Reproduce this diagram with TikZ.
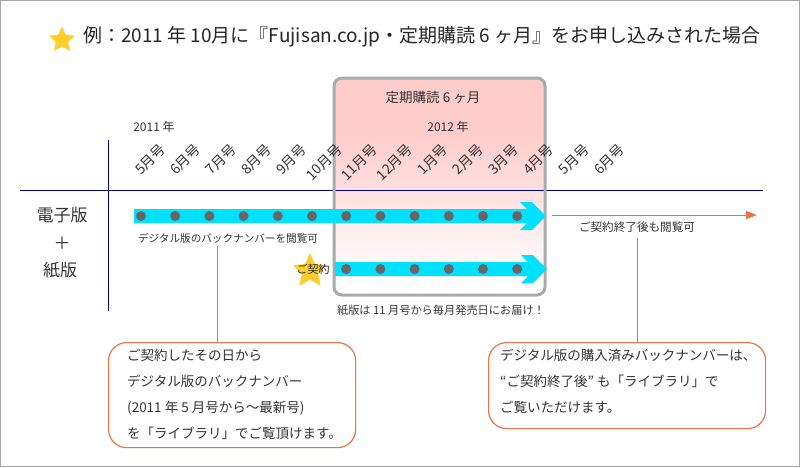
\documentclass[tikz,border=0pt]{standalone}
\usepackage{fontspec}
\setmainfont{Noto Sans CJK JP}
\usetikzlibrary{shapes.geometric,arrows.meta}

\definecolor{navyline}{RGB}{0,0,128}
\definecolor{bandcyan}{RGB}{0,225,255}
\definecolor{dotgray}{RGB}{102,102,102}
\definecolor{boxpink}{RGB}{255,204,204}
\definecolor{boxgray}{RGB}{170,170,170}
\definecolor{noteorange}{RGB}{232,116,72}
\definecolor{stargold}{RGB}{255,204,40}
\definecolor{txtgray}{RGB}{51,51,51}

\pgfdeclareverticalshading{pinkfade}{100bp}{color(0bp)=(white); color(28bp)=(white); color(62bp)=(boxpink); color(100bp)=(boxpink)}

\begin{document}
\begin{tikzpicture}[
    x=1pt, y=-1pt,
    txt/.style={inner sep=0pt, text=txtgray},
    month/.style={txt, rotate=45, anchor=east, font=\fontsize{14}{14}\selectfont},
    dot/.style={circle, fill=dotgray, minimum size=10pt, inner sep=0pt},
    axis/.style={navyline, line width=1pt},
    note/.style={draw=noteorange, line width=1.2pt, rounded corners=18pt, fill=white, inner sep=0pt},
    notetxt/.style={txt, anchor=west, align=left, font=\fontsize{13.5}{26}\selectfont},
    lead/.style={noteorange, line width=1pt},
    goldstar/.style={star, star points=5, star point ratio=2.1, fill=stargold, inner sep=0pt}
]
    \useasboundingbox (0,0) rectangle (800,467);
    \draw[gray!70, line width=1pt] (0.5,0.5) rectangle (799.5,466.5);

    % Title
    \node[goldstar, minimum size=27pt] (titlestar) at (62,40) {};
    \node[txt, anchor=west, text=black!85, font=\fontsize{19}{19}\selectfont] (title) at (83,37)
        {例：2011 年 10月に『Fujisan.co.jp・定期購読 6 ヶ月』をお申し込みされた場合};

    % Subscription period box
    \fill[shading=pinkfade, rounded corners=8pt] (334,78) rectangle (545,295);
    \node[txt, font=\fontsize{13.5}{13.5}\selectfont] (period) at (433,97) {定期購読 6 ヶ月};

    % Axes
    \coordinate (axl) at (20,190);
    \coordinate (axr) at (763,190);
    \coordinate (axt) at (108,140);
    \coordinate (axb) at (108,311);
    \draw[axis] (axl) -- (axr);
    \draw[axis] (axt) -- (axb);

    \draw[boxgray, line width=3pt, rounded corners=8pt] (334,78) rectangle (545,295);

    % Years and issues
    \node[txt, font=\fontsize{12}{12}\selectfont] (y2011) at (154,127) {2011 年};
    \node[txt, font=\fontsize{12}{12}\selectfont] (y2012) at (448,127) {2012 年};
    \foreach \m [count=\i from 0] in {5,6,7,8,9,10,11,12,1,2,3,4,5,6}
        \node[month] (issue\i) at ({163+35.3*\i},147) {\m{}月号};

    % Row labels
    \node[txt, font=\fontsize{17}{17}\selectfont] (denshi) at (62,215) {電子版};
    \node[txt, font=\fontsize{17}{17}\selectfont] (plus) at (62,243) {＋};
    \node[txt, font=\fontsize{17}{17}\selectfont] (kami) at (60,270) {紙版};

    % Digital edition band
    \fill[bandcyan] (134,209) -- (527,209) -- (520,202) -- (532,202) -- (546,216)
        -- (532,230) -- (520,230) -- (527,223) -- (134,223) -- cycle;
    \foreach \i in {0,...,11}
        \node[dot] (e\i) at ({141+34.2*\i},216) {};

    % Paper edition band
    \fill[bandcyan] (335,262) -- (528,262) -- (521,255) -- (533,255) -- (547,269)
        -- (533,283) -- (521,283) -- (528,276) -- (335,276) -- cycle;
    \foreach \i in {6,...,11}
        \node[dot] (p\i) at ({141+34.2*\i},269) {};

    % Contract star
    \node[goldstar, minimum size=36pt] (keiyakustar) at (310,271) {};
    \node[txt, text=black!85, font=\fontsize{11}{11}\selectfont] (keiyaku) at (313,269) {ご契約};

    % Band captions
    \node[txt, font=\fontsize{10.6}{10.6}\selectfont] (backtxt) at (228,238) {デジタル版のバックナンバーを閲覧可};
    \node[txt, font=\fontsize{11.2}{11.2}\selectfont] (papertxt) at (441,310) {紙版は 11 月号から毎月発売日にお届け！};
    \node[txt, font=\fontsize{11.6}{11.6}\selectfont] (endtxt) at (637,227) {ご契約終了後も閲覧可};

    % After the contract
    \coordinate (after0) at (552,215);
    \coordinate (after1) at (757,215);
    \draw[lead, -{Triangle[length=11pt, width=8pt]}] (after0) -- (after1);

    % Notes
    \node[note, minimum width=247pt, minimum height=105pt, anchor=north west] (leftnote) at (108,342) {};
    \node[notetxt] (lefttxt) at (127,394.5)
        {ご契約したその日から\\デジタル版のバックナンバー\\(2011 年 5 月号から〜最新号)\\を「ライブラリ」でご覧頂けます。};
    \node[note, minimum width=277pt, minimum height=86pt, anchor=north west] (rightnote) at (488,342) {};
    \node[notetxt] (righttxt) at (500,381)
        {デジタル版の購入済みバックナンバーは、\\“ご契約終了後” も「ライブラリ」で\\ご覧いただけます。};

    % Leaders
    \coordinate (backlead) at (217,246);
    \draw[lead] (backlead) -- (backlead |- leftnote.north);
    \draw[lead, shorten <=5pt] (endtxt.south) -- (endtxt.south |- rightnote.north);

\end{tikzpicture}
\end{document}
